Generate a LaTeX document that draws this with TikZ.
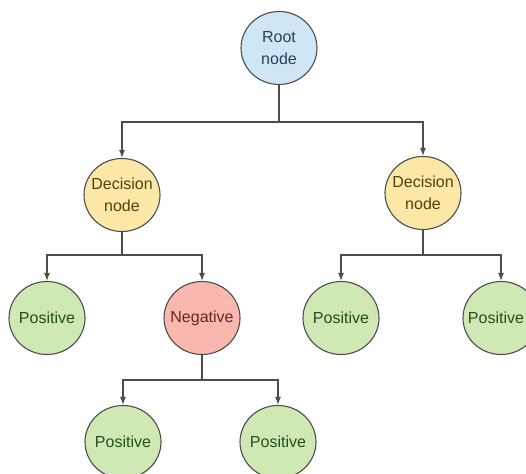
\documentclass[tikz,border=0pt]{standalone}
\usepackage{fontspec}
\setmainfont{Liberation Sans}
\usetikzlibrary{arrows.meta,shapes.geometric}
\definecolor{rootfill}{HTML}{CFE6F7}
\definecolor{rootText}{HTML}{2A4257}
\definecolor{decfill}{HTML}{FBE8A6}
\definecolor{decText}{HTML}{4F4210}
\definecolor{posfill}{HTML}{CFE8B4}
\definecolor{posText}{HTML}{25501A}
\definecolor{negfill}{HTML}{F8B8AD}
\definecolor{negText}{HTML}{6E241C}
\definecolor{edge}{HTML}{4D4D4D}
\tikzset{
  treenode/.style={ellipse, minimum width=76pt, minimum height=73pt, inner sep=0pt, draw=edge, line width=1.1pt},
  treetext/.style={align=center, inner sep=0pt, font=\fontsize{16}{22}\selectfont},
  rootnode/.style={treenode, fill=rootfill, label={[treetext, text=rootText]center:#1}},
  decnode/.style={treenode, fill=decfill, label={[treetext, text=decText]center:#1}},
  posnode/.style={treenode, fill=posfill, label={[treetext, text=posText]center:#1}},
  negnode/.style={treenode, fill=negfill, label={[treetext, text=negText]center:#1}},
  arr/.style={draw=edge, line width=1.3pt, -{Latex[length=8pt,width=6pt]}}
}
\begin{document}
\begin{tikzpicture}[x=1pt,y=1pt]
\useasboundingbox (0,0) rectangle (526,473);
\node[rootnode={Root\\node}] (root) at (279,425) {};
\node[decnode={Decision\\node}] (dL) at (122,278) {};
\node[decnode={Decision\\node}] (dR) at (423,280) {};
\node[posnode=Positive] (p1) at (47,155) {};
\node[negnode=Negative] (neg) at (202,155) {};
\node[posnode=Positive] (p3) at (341,155) {};
\node[treenode, fill=posfill, label={[treetext, text=posText, xshift=-5pt]center:Positive}] (p4) at (501,155) {};
\node[posnode=Positive] (p5) at (123,31) {};
\node[posnode=Positive] (p6) at (278,31) {};
\coordinate (b1) at (0,351);
\coordinate (b2) at (0,218);
\coordinate (b3) at (0,93);
\draw[arr] (root.south) -- (root.south |- b1) -| (dL.north);
\draw[arr] (root.south) -- (root.south |- b1) -| (dR.north);
\draw[arr] (dL.south) -- (dL.south |- b2) -| (p1.north);
\draw[arr] (dL.south) -- (dL.south |- b2) -| (neg.north);
\draw[arr] (dR.south) -- (dR.south |- b2) -| (p3.north);
\draw[arr] (dR.south) -- (dR.south |- b2) -| (p4.north);
\draw[arr] (neg.south) -- (neg.south |- b3) -| (p5.north);
\draw[arr] (neg.south) -- (neg.south |- b3) -| (p6.north);
\end{tikzpicture}
\end{document}
